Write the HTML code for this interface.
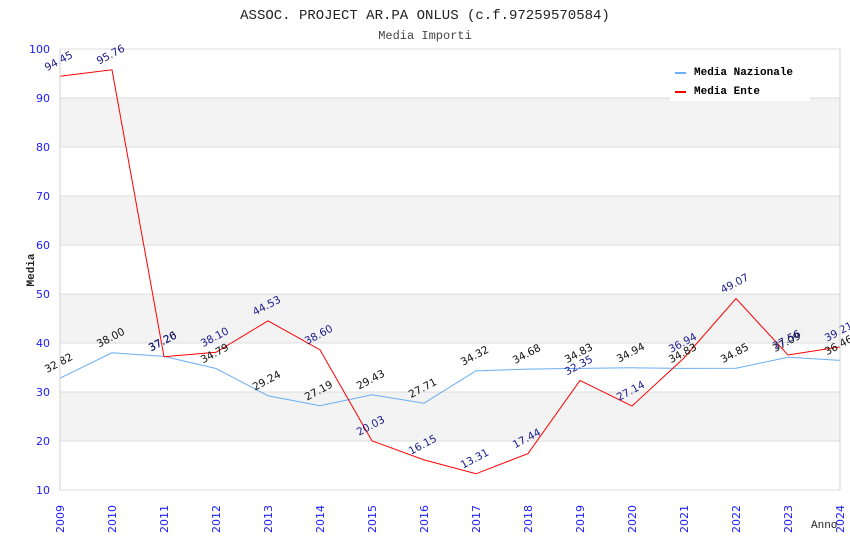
<!DOCTYPE html>
<html><head><meta charset="utf-8"><style>
body{margin:0;background:#fff}
svg{display:block}
</style></head><body>
<svg id="chart" width="850" height="550" xmlns="http://www.w3.org/2000/svg">
<text x="425" y="19" text-anchor="middle" font-family="Liberation Mono, monospace" font-size="14" fill="#222">ASSOC. PROJECT AR.PA ONLUS (c.f.97259570584)</text>
<text x="425" y="39" text-anchor="middle" font-family="Liberation Mono, monospace" font-size="12" fill="#444">Media Importi</text>
<g id="grid"></g>
<g id="series"></g>
<g id="labels"></g>
<g id="axes"></g>
<text transform="translate(34,270) rotate(-90)" text-anchor="middle" font-family="Liberation Mono, monospace" font-size="11" font-weight="bold" fill="#222">Media</text>
<text x="811" y="528" font-family="Liberation Mono, monospace" font-size="11" fill="#222">Anno</text>
<g>
<rect x="670" y="59" width="140" height="42" fill="#fff"/>
<line x1="675" y1="73" x2="686" y2="73" stroke="#6aaef5" stroke-width="2"/>
<text x="694" y="75" font-family="Liberation Mono, monospace" font-size="11" font-weight="bold" fill="#000">Media Nazionale</text>
<line x1="675" y1="92" x2="686" y2="92" stroke="#ff0000" stroke-width="2"/>
<text x="694" y="94" font-family="Liberation Mono, monospace" font-size="11" font-weight="bold" fill="#000">Media Ente</text>
</g>
</svg>
<script>
const years=[2009,2010,2011,2012,2013,2014,2015,2016,2017,2018,2019,2020,2021,2022,2023,2024];
const nazionale=[32.82,38.00,37.26,34.79,29.24,27.19,29.43,27.71,34.32,34.68,34.83,34.94,34.83,34.85,37.09,36.46];
const ente=[94.45,95.76,37.20,38.10,44.53,38.60,20.03,16.15,13.31,17.44,32.35,27.14,36.94,49.07,37.56,39.21];
const yTicks=[10,20,30,40,50,60,70,80,90,100];
const NS='http://www.w3.org/2000/svg';
const L=60,R=840,T=49,B=490;
const x=i=>L+(R-L)*i/(years.length-1);
const y=v=>B-(v-10)*(B-T)/90;
function mk(tag,attrs,parent){const e=document.createElementNS(NS,tag);for(const k in attrs)e.setAttribute(k,attrs[k]);parent.appendChild(e);return e;}
const grid=document.getElementById('grid'),axes=document.getElementById('axes'),series=document.getElementById('series'),labels=document.getElementById('labels');
for(let k=0;k<yTicks.length-1;k++){
  if(k%2===1){const r=mk('rect',{x:L,y:y(yTicks[k+1]),width:R-L,height:y(yTicks[k])-y(yTicks[k+1]),fill:'#f3f3f3'},grid);
  
  }
}
yTicks.forEach(t=>{
  const l=mk('line',{x1:L,x2:R,y1:y(t),y2:y(t),stroke:'#dddddd','stroke-width':1},grid);
  
  
  const tx=mk('text',{x:L-10,y:y(t)+4,'text-anchor':'end','font-family':'DejaVu Sans, sans-serif','font-size':11,fill:'#1a1aff'},axes);
  tx.textContent=t;
  
  
});
mk('line',{x1:L,x2:L,y1:T,y2:B,stroke:'#d0d0d0'},axes);
mk('line',{x1:R,x2:R,y1:T,y2:B,stroke:'#d0d0d0'},axes);
years.forEach((yr,i)=>{
  const tx=mk('text',{transform:`translate(${x(i)+4},${B+43}) rotate(-90)`,'font-family':'DejaVu Sans, sans-serif','font-size':11,fill:'#1a1aff'},axes);
  tx.textContent=yr;
  
  
});
function drawSeries(vals,color,lblColor,name){
  const p=mk('polyline',{points:vals.map((v,i)=>x(i)+','+y(v)).join(' '),fill:'none',stroke:color,'stroke-width':1},series);
  
  
  vals.forEach((v,i)=>{
    const t=mk('text',{transform:`translate(${x(i)-13},${y(v)-5}) rotate(-28)`,'font-family':'DejaVu Sans, sans-serif','font-size':10.5,fill:lblColor},labels);
    t.textContent=v.toFixed(2);
    
    
  });
}
drawSeries(nazionale,'#6aaef5','#111','nazionale');
drawSeries(ente,'#ff0000','#1a1a8c','ente');
</script>
</body></html>
